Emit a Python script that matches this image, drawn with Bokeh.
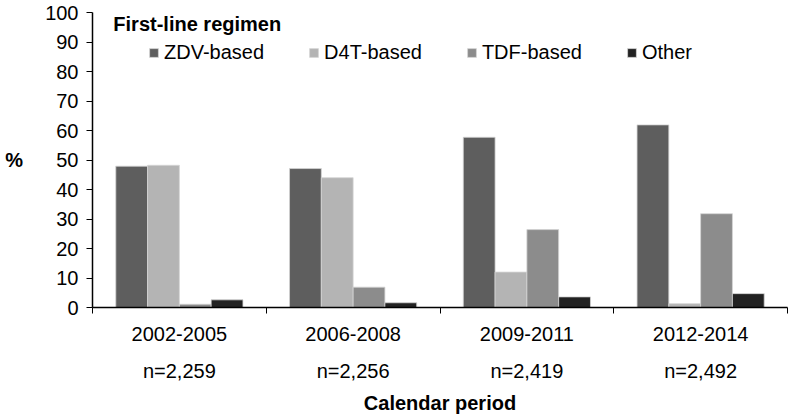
from bokeh.plotting import figure
from bokeh.models import (Range1d, FixedTicker, LinearAxis, Legend, LegendItem,
                          Label, ColumnDataSource)
from bokeh.transform import dodge
from bokeh.embed import file_html
from bokeh.resources import INLINE

periods = ["2002-2005", "2006-2008", "2009-2011", "2012-2014"]
n_labels = ["n=2,259", "n=2,256", "n=2,419", "n=2,492"]
series = ["ZDV-based", "D4T-based", "TDF-based", "Other"]
zdv = [47.9, 47.1, 57.7, 61.9]
d4t = [48.2, 44.0, 12.0, 1.3]
tdf = [1.1, 6.9, 26.4, 31.8]
other = [2.6, 1.6, 3.6, 4.7]
colors = ["#5e5e5e", "#b4b4b4", "#8c8c8c", "#222222"]
y_ticks = [0, 10, 20, 30, 40, 50, 60, 70, 80, 90, 100]

FONT = "Liberation Sans"
centers = [i + 0.5 for i in range(len(periods))]
bounds = [float(i) for i in range(len(periods) + 1)]
bar_w = 0.183

src = ColumnDataSource(dict(x=centers, zdv=zdv, d4t=d4t, tdf=tdf, other=other))

p = figure(width=790, height=416, x_range=Range1d(0, len(periods)), y_range=Range1d(0, 100),
           output_backend="svg", toolbar_location=None,
           min_border_left=92, min_border_right=3, min_border_top=12, min_border_bottom=108)
p.outline_line_color = None
p.grid.visible = False
p.background_fill_color = "white"
p.border_fill_color = "white"

# bars
keys = ["zdv", "d4t", "tdf", "other"]
offsets = [-1.5 * bar_w, -0.5 * bar_w, 0.5 * bar_w, 1.5 * bar_w]
renderers = []
for k, off, c in zip(keys, offsets, colors):
    r = p.vbar(x=dodge("x", off), top=k, width=bar_w, source=src,
               fill_color=c, line_color="#d4d4d4", line_width=0.8)
    renderers.append(r)

# x axis with period labels, ticks at category boundaries
xa = p.xaxis[0]
xa.ticker = FixedTicker(ticks=centers, minor_ticks=bounds)
xa.major_label_overrides = {c: lab for c, lab in zip(centers, periods)}
xa.major_tick_out = 0
xa.major_tick_in = 0
xa.minor_tick_out = 6
xa.minor_tick_in = 0
xa.minor_tick_line_color = "black"
xa.axis_line_color = "black"
xa.axis_line_width = 1.5
xa.major_label_standoff = 13
xa.major_label_text_font = FONT
xa.major_label_text_font_size = "20px"
xa.major_label_text_color = "black"

# second bottom axis with sample sizes and title
xa2 = LinearAxis(ticker=FixedTicker(ticks=centers))
xa2.major_label_overrides = {c: lab for c, lab in zip(centers, n_labels)}
xa2.axis_line_color = None
xa2.major_tick_line_color = None
xa2.minor_tick_line_color = None
xa2.major_tick_out = 0
xa2.major_label_standoff = 16
xa2.major_label_text_font = FONT
xa2.major_label_text_font_size = "20px"
xa2.major_label_text_color = "black"
xa2.axis_label = "Calendar period"
xa2.axis_label_text_font = FONT
xa2.axis_label_text_font_size = "20px"
xa2.axis_label_text_font_style = "bold"
xa2.axis_label_text_color = "black"
xa2.axis_label_standoff = 7
p.add_layout(xa2, "below")

# y axis
ya = p.yaxis[0]
ya.ticker = FixedTicker(ticks=y_ticks)
ya.minor_tick_line_color = None
ya.major_tick_out = 6
ya.major_tick_in = 0
ya.axis_line_color = "black"
ya.axis_line_width = 1.5
ya.major_tick_line_color = "black"
ya.major_label_standoff = 8
ya.major_label_text_font = FONT
ya.major_label_text_font_size = "20px"
ya.major_label_text_color = "black"
ya.axis_label = "%"
ya.axis_label_orientation = "horizontal"
ya.axis_label_standoff = 19
ya.axis_label_text_font = FONT
ya.axis_label_text_font_size = "20px"
ya.axis_label_text_font_style = "bold"
ya.axis_label_text_color = "black"

# legend
legend = Legend(items=[LegendItem(label=s, renderers=[r]) for s, r in zip(series, renderers)],
                orientation="horizontal", location=(56, 243), spacing=44,
                glyph_width=11, glyph_height=11, label_standoff=5,
                padding=0, margin=0, border_line_color=None, background_fill_alpha=0,
                label_text_font=FONT, label_text_font_size="20px", label_text_color="black")
p.add_layout(legend)

title = Label(x=0.12, y=96.2, text="First-line regimen", text_font=FONT,
              text_font_style="bold", text_font_size="20px", text_baseline="middle",
              text_color="black")
p.add_layout(title)

open("out.html", "w").write(file_html(p, INLINE))
